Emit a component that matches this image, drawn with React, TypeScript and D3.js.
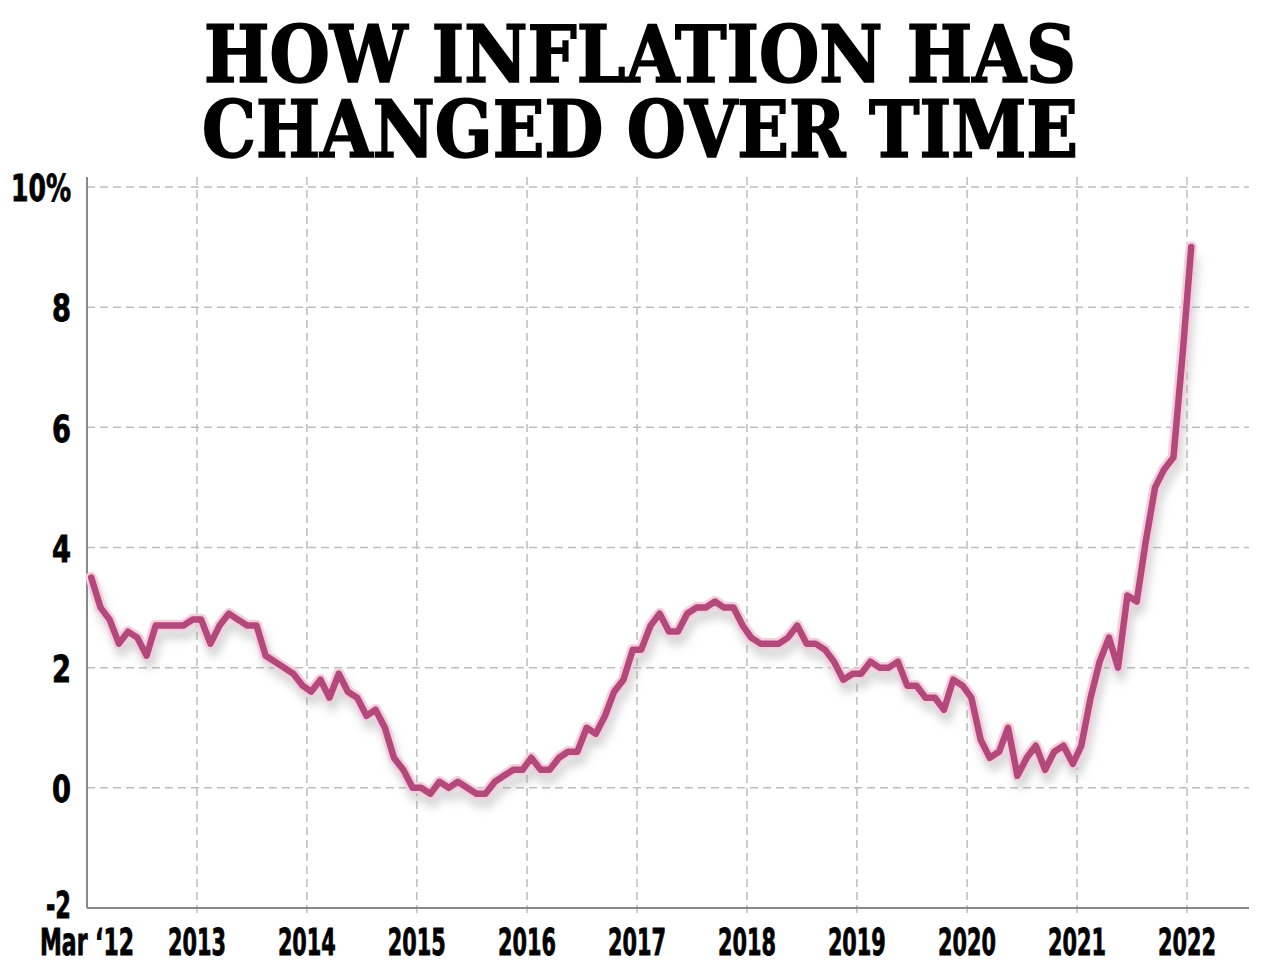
import React from 'react';
import * as d3 from 'd3';

const titleLines = ['HOW INFLATION HAS', 'CHANGED OVER TIME'];

// Monthly CPI inflation (%), starting March 2012
const cpiValues = [
  3.5, 3.0, 2.8, 2.4, 2.6, 2.5, 2.2, 2.7, 2.7, 2.7, 2.7, 2.8,
  2.8, 2.4, 2.7, 2.9, 2.8, 2.7, 2.7, 2.2, 2.1, 2.0, 1.9, 1.7,
  1.6, 1.8, 1.5, 1.9, 1.6, 1.5, 1.2, 1.3, 1.0, 0.5, 0.3, 0.0,
  0.0, -0.1, 0.1, 0.0, 0.1, 0.0, -0.1, -0.1, 0.1, 0.2, 0.3, 0.3,
  0.5, 0.3, 0.3, 0.5, 0.6, 0.6, 1.0, 0.9, 1.2, 1.6, 1.8, 2.3,
  2.3, 2.7, 2.9, 2.6, 2.6, 2.9, 3.0, 3.0, 3.1, 3.0, 3.0, 2.7,
  2.5, 2.4, 2.4, 2.4, 2.5, 2.7, 2.4, 2.4, 2.3, 2.1, 1.8, 1.9,
  1.9, 2.1, 2.0, 2.0, 2.1, 1.7, 1.7, 1.5, 1.5, 1.3, 1.8, 1.7,
  1.5, 0.8, 0.5, 0.6, 1.0, 0.2, 0.5, 0.7, 0.3, 0.6, 0.7, 0.4,
  0.7, 1.5, 2.1, 2.5, 2.0, 3.2, 3.1, 4.1, 5.0, 5.3, 5.5, 7.25,
  9.0,
];

const yTicks = [-2, 0, 2, 4, 6, 8, 10];
const yTickLabels = ['-2', '0', '2', '4', '6', '8', '10%'];
const xTickYears = [2012, 2013, 2014, 2015, 2016, 2017, 2018, 2019, 2020, 2021, 2022];
const xTickLabels = ['Mar \u201812', '2013', '2014', '2015', '2016', '2017', '2018', '2019', '2020', '2021', '2022'];

const W = 1280;
const H = 968;
const plotLeft = 87;
const plotRight = 1249;
const plotTop = 177;
const plotBottom = 908;

const labelFont = "'Liberation Sans Narrow', 'DejaVu Sans Condensed', 'DejaVu Sans', sans-serif";
const titleFont = "'DejaVu Serif Condensed', 'DejaVu Serif', 'Liberation Serif', serif";

function yLabelWidth(s: string) {
  if (s === '10%') return 60;
  if (s.length === 2) return 25;
  return 19;
}
function xLabelWidth(s: string) {
  return s.length > 4 ? 94 : 58;
}

export default function App() {
  const x = d3
    .scaleTime()
    .domain([new Date(2012, 2, 1), new Date(2022, 2, 1)])
    .range([87, 1187]);
  const y = d3.scaleLinear().domain([-2, 10]).range([908, 187]);

  const points = cpiValues.map((v, i) => ({ date: new Date(2012, 2 + i, 15), v }));
  const line = d3
    .line<{ date: Date; v: number }>()
    .x((d) => x(d.date))
    .y((d) => y(d.v))
    .curve(d3.curveLinear);
  const pathD = line(points) || '';

  return (
    <svg
      width={W}
      height={H}
      viewBox={`0 0 ${W} ${H}`}
      style={{ position: 'absolute', left: 0, top: 0, background: '#fff', display: 'block' }}
    >
      <defs>
        <filter id="shadow" x="-10%" y="-10%" width="120%" height="130%">
          <feGaussianBlur stdDeviation="5" />
        </filter>
      </defs>
      <rect x={0} y={0} width={W} height={H} fill="#fff" />

      {/* Title */}
      {titleLines.map((t, i) => (
        <text
          key={t}
          x={640}
          y={82 + i * 75}
          textAnchor="middle"
          fontFamily={titleFont}
          fontWeight={900}
          fontSize={78}
          fill="#000"
          stroke="#000"
          strokeWidth={1.6}
          textLength={i === 0 ? 872 : 876}
          lengthAdjust="spacingAndGlyphs"
        >
          {t}
        </text>
      ))}

      {/* Horizontal grid */}
      {yTicks
        .filter((t) => t !== -2)
        .map((t) => (
          <line
            key={'h' + t}
            x1={plotLeft}
            x2={plotRight}
            y1={y(t)}
            y2={y(t)}
            stroke="#bdbdbd"
            strokeWidth={1.5}
            strokeDasharray="8 5"
          />
        ))}

      {/* Vertical grid */}
      {xTickYears
        .filter((yr) => yr !== 2012)
        .map((yr) => {
          const xx = x(new Date(yr, 2, 1));
          return (
            <line
              key={'v' + yr}
              x1={xx}
              x2={xx}
              y1={plotTop}
              y2={plotBottom + 5}
              stroke="#bdbdbd"
              strokeWidth={1.5}
              strokeDasharray="8 5"
            />
          );
        })}

      {/* Axes */}
      <line x1={plotLeft} x2={plotLeft} y1={plotTop} y2={plotBottom} stroke="#888" strokeWidth={2} />
      <line x1={plotLeft} x2={plotRight} y1={plotBottom} y2={plotBottom} stroke="#888" strokeWidth={2} />

      {/* Y labels */}
      {yTicks.map((t, i) => (
        <text
          key={'yl' + t}
          x={71}
          y={y(t) + (t === -2 ? -3 : 1)}
          dy="0.36em"
          textAnchor="end"
          fontFamily={labelFont}
          fontWeight={700}
          fontSize={37}
          fill="#000"
          stroke="#000"
          strokeWidth={0.8}
          textLength={yLabelWidth(yTickLabels[i])}
          lengthAdjust="spacingAndGlyphs"
        >
          {yTickLabels[i]}
        </text>
      ))}

      {/* X labels */}
      {xTickYears.map((yr, i) => (
        <text
          key={'xl' + yr}
          x={x(new Date(yr, 2, 1))}
          y={955}
          textAnchor="middle"
          fontFamily={labelFont}
          fontWeight={700}
          fontSize={37}
          fill="#000"
          stroke="#000"
          strokeWidth={0.8}
          textLength={xLabelWidth(xTickLabels[i])}
          lengthAdjust="spacingAndGlyphs"
        >
          {xTickLabels[i]}
        </text>
      ))}

      {/* Line shadow, halo, line */}
      <path
        d={pathD}
        transform="translate(3,9)"
        fill="none"
        stroke="#9a9a9a"
        strokeOpacity={0.45}
        strokeWidth={9}
        strokeLinejoin="round"
        filter="url(#shadow)"
      />
      <path d={pathD} fill="none" stroke="#f3cedd" strokeWidth={11.5} strokeLinejoin="round" strokeLinecap="round" />
      <path d={pathD} fill="none" stroke="#b3487a" strokeWidth={6.5} strokeLinejoin="round" strokeLinecap="round" />
    </svg>
  );
}
